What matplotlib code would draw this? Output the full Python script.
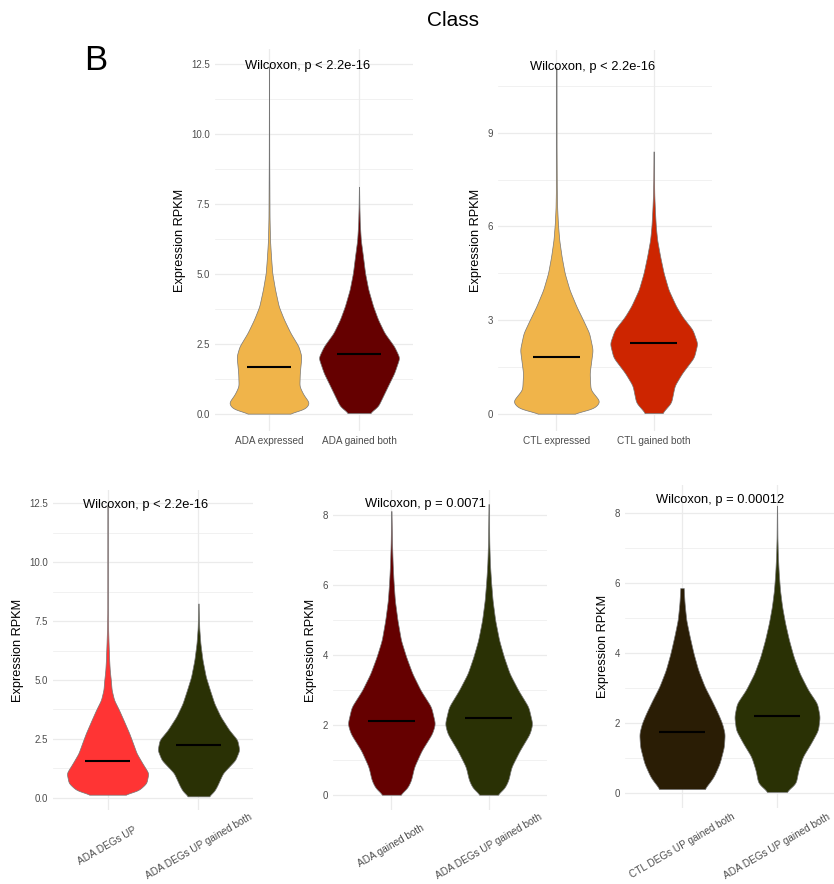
import numpy as np
import matplotlib
matplotlib.use("Agg")
import matplotlib.pyplot as plt
from matplotlib.ticker import MultipleLocator, FormatStrFormatter

plt.rcParams['font.family'] = ['Liberation Sans', 'DejaVu Sans']

# ---- violin profiles: expression levels and relative half-widths (1 = widest) ----
ada_expressed_y = [0.0, 0.15, 0.38, 0.68, 0.98, 1.45, 2.05, 2.4, 2.88, 3.36, 3.83, 4.43, 5.02, 5.6, 6.2, 7.0, 9.0, 12.4]
ada_expressed_w = [0.45, 0.88, 1.0, 0.85, 0.75, 0.76, 0.8, 0.73, 0.53, 0.37, 0.24, 0.15, 0.08, 0.05, 0.025, 0.013, 0.006, 0.002]

ada_gained_y = [0.02, 0.26, 0.62, 0.98, 1.45, 2.0, 2.4, 2.88, 3.36, 3.83, 4.43, 5.02, 5.6, 6.2, 6.8, 7.4, 8.1]
ada_gained_w = [0.26, 0.47, 0.59, 0.71, 0.87, 1.0, 0.87, 0.63, 0.47, 0.35, 0.23, 0.15, 0.1, 0.045, 0.02, 0.01, 0.003]

ctl_expressed_y = [0.0, 0.15, 0.39, 0.77, 1.3, 2.05, 2.58, 3.0, 3.43, 3.97, 4.5, 5.03, 5.57, 6.1, 6.6, 7.2, 8.5, 11.1]
ctl_expressed_w = [0.33, 0.85, 1.0, 0.78, 0.76, 0.83, 0.75, 0.61, 0.46, 0.3, 0.19, 0.12, 0.065, 0.035, 0.018, 0.01, 0.005, 0.002]

ctl_gained_y = [0.02, 0.35, 0.9, 1.3, 1.8, 2.25, 2.69, 3.1, 3.45, 3.97, 4.5, 5.03, 5.57, 6.0, 6.5, 7.0, 7.5, 8.4]
ctl_gained_w = [0.19, 0.4, 0.48, 0.65, 0.92, 1.0, 0.89, 0.66, 0.51, 0.34, 0.23, 0.15, 0.08, 0.05, 0.03, 0.015, 0.008, 0.003]

ada_up_y = [0.13, 0.3, 0.62, 1.05, 1.47, 1.89, 2.32, 2.74, 3.3, 3.73, 4.15, 4.58, 5.0, 5.4, 5.85, 6.55, 7.25, 8.0, 12.45]
ada_up_w = [0.39, 0.75, 0.95, 1.0, 0.85, 0.71, 0.62, 0.53, 0.39, 0.28, 0.16, 0.1, 0.08, 0.055, 0.04, 0.025, 0.012, 0.006, 0.002]

ada_up_gained_y1 = [0.06, 0.27, 0.48, 1.05, 1.6, 2.03, 2.46, 2.88, 3.45, 4.0, 4.58, 5.14, 5.85, 6.55, 7.2, 8.25]
ada_up_gained_w1 = [0.25, 0.38, 0.45, 0.6, 0.9, 1.0, 0.95, 0.75, 0.54, 0.39, 0.28, 0.18, 0.1, 0.048, 0.02, 0.003]

ada_gained_y2 = [0.02, 0.2, 0.43, 0.81, 1.28, 1.76, 2.04, 2.52, 2.99, 3.47, 3.94, 4.42, 4.99, 5.56, 6.1, 6.6, 7.2, 8.1]
ada_gained_w2 = [0.19, 0.36, 0.45, 0.52, 0.69, 0.93, 1.0, 0.91, 0.67, 0.48, 0.34, 0.22, 0.14, 0.08, 0.05, 0.03, 0.015, 0.003]

ada_up_gained_y2 = [0.02, 0.2, 0.43, 0.81, 1.28, 1.76, 2.04, 2.52, 2.99, 3.47, 3.94, 4.42, 4.99, 5.56, 6.1, 6.6, 7.2, 8.3]
ada_up_gained_w2 = [0.19, 0.36, 0.45, 0.52, 0.71, 0.94, 1.0, 0.91, 0.68, 0.48, 0.35, 0.24, 0.15, 0.09, 0.055, 0.03, 0.015, 0.003]

ctl_up_gained_y = [0.12, 0.3, 0.47, 0.85, 1.32, 1.7, 1.99, 2.28, 2.66, 3.04, 3.51, 3.99, 4.47, 4.94, 5.42, 5.85]
ctl_up_gained_w = [0.52, 0.64, 0.74, 0.88, 0.98, 1.0, 0.94, 0.84, 0.69, 0.53, 0.38, 0.27, 0.18, 0.1, 0.06, 0.04]

ada_up_gained_y3 = [0.04, 0.28, 0.66, 1.04, 1.42, 1.8, 2.18, 2.56, 2.94, 3.42, 3.89, 4.37, 4.85, 5.32, 5.8, 6.3, 6.8, 7.3, 8.2]
ada_up_gained_w3 = [0.21, 0.44, 0.5, 0.6, 0.79, 0.96, 1.0, 0.94, 0.73, 0.53, 0.39, 0.28, 0.19, 0.12, 0.07, 0.04, 0.02, 0.01, 0.003]

# ---- medians ----
medians_top_left = [1.68, 2.12]
medians_top_right = [1.83, 2.27]
medians_bottom_left = [1.55, 2.22]
medians_bottom_mid = [2.13, 2.2]
medians_bottom_right = [1.75, 2.2]

# ---- category labels and p-values ----
labels_top_left = ["ADA expressed", "ADA gained both"]
labels_top_right = ["CTL expressed", "CTL gained both"]
labels_bottom_left = ["ADA DEGs UP", "ADA DEGs UP gained both"]
labels_bottom_mid = ["ADA gained both", "ADA DEGs UP gained both"]
labels_bottom_right = ["CTL DEGs UP gained both", "ADA DEGs UP gained both"]

pvals = ["Wilcoxon, p < 2.2e-16", "Wilcoxon, p < 2.2e-16", "Wilcoxon, p < 2.2e-16",
         "Wilcoxon, p = 0.0071", "Wilcoxon, p = 0.00012"]

C_ORANGE = "#F0B44A"
C_DARKRED = "#650000"
C_RED = "#CD2500"
C_BRIGHT = "#FF3434"
C_OLIVE = "#2A3105"
C_BROWN = "#2A1D05"

W, H = 834, 884
fig = plt.figure(figsize=(W / 100, H / 100), dpi=100)
fig.patch.set_facecolor("white")

GRID = "#EBEBEB"
TICK_C = "#4D4D4D"


def add_panel(box, ylim, major, fmt):
    left, top, right, bottom = box
    ax = fig.add_axes([left / W, 1 - bottom / H, (right - left) / W, (bottom - top) / H])
    ax.set_xlim(0.4, 2.6)
    ax.set_ylim(*ylim)
    ax.yaxis.set_major_locator(MultipleLocator(major))
    ax.yaxis.set_minor_locator(MultipleLocator(major / 2))
    ax.yaxis.set_major_formatter(FormatStrFormatter(fmt))
    ax.set_xticks([1, 2])
    ax.grid(which="major", axis="both", color=GRID, lw=0.9, zorder=0)
    ax.grid(which="minor", axis="y", color=GRID, lw=0.5, zorder=0)
    ax.set_axisbelow(True)
    for s in ax.spines.values():
        s.set_visible(False)
    ax.tick_params(which="both", length=0)
    ax.tick_params(axis="y", labelsize=7, labelcolor=TICK_C, pad=3.5)
    ax.set_ylabel("Expression RPKM", fontsize=9.2, labelpad=4)
    return ax


def violin(ax, pos, ys, ws, color, median):
    ys = np.asarray(ys, float)
    ws = np.asarray(ws, float)
    grid = np.linspace(ys[0], ys[-1], 900)
    prof = np.interp(grid, ys, ws)
    # light smoothing of the outline
    step = grid[1] - grid[0]
    sig = 0.07 / step
    k = np.arange(-int(4 * sig), int(4 * sig) + 1)
    ker = np.exp(-0.5 * (k / sig) ** 2)
    ker /= ker.sum()
    padded = np.pad(prof, len(k) // 2, mode="edge")
    prof = np.convolve(padded, ker, mode="valid")
    half = 0.45 * prof
    ax.fill_betweenx(grid, pos - half, pos + half, facecolor=color,
                     edgecolor="#777777", lw=0.5, zorder=2)
    ax.hlines(median, pos - 0.243, pos + 0.243, color="black", lw=1.5, zorder=3)


def top_labels(ax, labels):
    ax.set_xticklabels(labels, fontsize=7.2, color=TICK_C)
    ax.tick_params(axis="x", pad=3.5)


def rotated_labels(ax, labels, box):
    left, top, right, bottom = box
    yc = -(846 - bottom) / (bottom - top)
    ax.set_xticklabels([])
    for i, lab in enumerate(labels):
        ax.text(i + 1, yc, lab, transform=ax.get_xaxis_transform(), rotation=30,
                rotation_mode="anchor", ha="center", va="center",
                fontsize=7.2, color=TICK_C)


def pval(ax, text, y):
    ax.text(0.73, y, text, ha="left", va="center", fontsize=9.3, zorder=4)


# Top-left panel
box = (215, 49, 413, 431)
ax = add_panel(box, (-0.62, 13.02), 2.5, "%.1f")
violin(ax, 1, ada_expressed_y, ada_expressed_w, C_ORANGE, medians_top_left[0])
violin(ax, 2, ada_gained_y, ada_gained_w, C_DARKRED, medians_top_left[1])
top_labels(ax, labels_top_left)
pval(ax, pvals[0], 12.4)

# Top-right panel
box = (498, 50, 712, 431)
ax = add_panel(box, (-0.555, 11.65), 3, "%d")
violin(ax, 1, ctl_expressed_y, ctl_expressed_w, C_ORANGE, medians_top_right[0])
violin(ax, 2, ctl_gained_y, ctl_gained_w, C_RED, medians_top_right[1])
top_labels(ax, labels_top_right)
pval(ax, pvals[1], 11.1)

# Bottom-left panel
box = (53, 490, 253, 810)
ax = add_panel(box, (-0.52, 13.07), 2.5, "%.1f")
violin(ax, 1, ada_up_y, ada_up_w, C_BRIGHT, medians_bottom_left[0])
violin(ax, 2, ada_up_gained_y1, ada_up_gained_w1, C_OLIVE, medians_bottom_left[1])
rotated_labels(ax, labels_bottom_left, box)
pval(ax, pvals[2], 12.45)

# Bottom-middle panel
box = (333, 490, 547, 810)
ax = add_panel(box, (-0.415, 8.7), 2, "%d")
violin(ax, 1, ada_gained_y2, ada_gained_w2, C_DARKRED, medians_bottom_mid[0])
violin(ax, 2, ada_up_gained_y2, ada_up_gained_w2, C_OLIVE, medians_bottom_mid[1])
rotated_labels(ax, labels_bottom_mid, box)
pval(ax, pvals[3], 8.3)

# Bottom-right panel
box = (625, 485, 834, 808)
ax = add_panel(box, (-0.42, 8.79), 2, "%d")
violin(ax, 1, ctl_up_gained_y, ctl_up_gained_w, C_BROWN, medians_bottom_right[0])
violin(ax, 2, ada_up_gained_y3, ada_up_gained_w3, C_OLIVE, medians_bottom_right[1])
rotated_labels(ax, labels_bottom_right, box)
pval(ax, pvals[4], 8.37)

fig.text(453 / W, 1 - 21 / H, "Class", ha="center", va="center", fontsize=15)
fig.text(96 / W, 1 - 60 / H, "B", ha="center", va="center", fontsize=25)

fig.savefig("out.png", dpi=100, facecolor="white")
